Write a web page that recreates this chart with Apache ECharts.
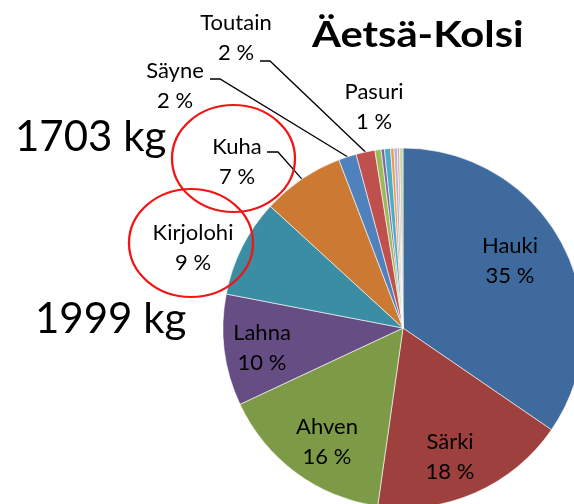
<!DOCTYPE html>
<html><head><meta charset="utf-8">
<script src="https://cdn.jsdelivr.net/npm/echarts@6/dist/echarts.min.js"></script>
<style>html,body{margin:0;padding:0;background:#fff}#c{width:574px;height:504px}</style>
</head><body><div id="c"></div>
<script>
// ---- data ----
const names = ['Hauki','Särki','Ahven','Lahna','Kirjolohi','Kuha','Säyne','Toutain','Pasuri','Siika','Made','Kiiski','Salakka','Muikku','Taimen'];
const shares = [34.6,17.7,15.8,10.0,8.8,7.4,1.6,1.7,0.55,0.3,0.55,0.3,0.3,0.2,0.3];
const shownLabels = ['Hauki','Särki','Ahven','Lahna','Kirjolohi','Kuha','Säyne','Toutain','Pasuri'];
const titleText = 'Äetsä-Kolsi';
const weightTexts = ['1703 kg','1999 kg'];

// ---- style ----
const colors = ['#3F6A9E','#9E403D','#7D9B47','#664E84','#3A8DA2','#CC7A33','#4F81BD','#C0504D','#9BBB59','#8064A2','#4BACC6','#F79646','#A7B8DC','#DAA5A4','#C5D5A6'];
const outsideNames = ['Kirjolohi','Kuha','Säyne','Toutain','Pasuri'];
const leaderNames = ['Kuha','Säyne','Toutain'];
const labelPos = {
  'Hauki':[510,261], 'Särki':[450,457], 'Ahven':[327,442], 'Lahna':[262,348],
  'Kirjolohi':[193,248], 'Kuha':[237,162], 'Säyne':[175,86], 'Toutain':[236,38], 'Pasuri':[374,107]
};
const leaderPts = {
  'Kuha':[[278,152],[267,152]],
  'Säyne':[[220,79],[210,79]],
  'Toutain':[[270,61],[260,61]]
};

const data = names.map((n,i)=>({
  name:n, value:shares[i],
  itemStyle:{color:colors[i]},
  label:{show: shownLabels.includes(n), position: outsideNames.includes(n)?'outside':'inside'},
  labelLine:{show: leaderNames.includes(n)}
}));

const chart = echarts.init(document.getElementById('c'), null, {renderer:'canvas'});
chart.setOption({
  backgroundColor:'#fff',
  animation:false,
  series:[{
    type:'pie',
    center:[403,328],
    radius:180,
    startAngle:90,
    clockwise:true,
    avoidLabelOverlap:false,
    itemStyle:{borderColor:'#fff',borderWidth:0.6},
    label:{
      formatter:p=>p.name+'\n'+Math.round(p.percent)+' %',
      fontFamily:'Lato', fontSize:22, lineHeight:30, color:'#000',
      align:'center'
    },
    labelLine:{length:10,length2:10,lineStyle:{color:'#000',width:1.3}},
    labelLayout:function(p){
      const n = names[p.dataIndex];
      const pos = labelPos[n];
      if(!pos) return {};
      const out = {x:pos[0], y:pos[1], align:'center', verticalAlign:'middle'};
      const lp = leaderPts[n];
      if(lp && p.labelLinePoints){
        out.labelLinePoints = [p.labelLinePoints[0], lp[0], lp[1]];
      }
      return out;
    },
    data:data
  }],
  graphic:[
    {type:'text', z:100, x:312, y:35, scaleX:1.16, style:{text:titleText, font:'bold 36px Lato', fill:'#000', verticalAlign:'middle'}},
    {type:'text', z:100, x:15, y:137, style:{text:weightTexts[0], font:'42px Lato', fill:'#000', verticalAlign:'middle'}},
    {type:'text', z:100, x:35, y:319, style:{text:weightTexts[1], font:'42px Lato', fill:'#000', verticalAlign:'middle'}},
    {type:'circle', z:100, x:233.5, y:158.5, scaleX:61.5/53.5, shape:{cx:0,cy:0,r:53.5}, style:{fill:'none', stroke:'#F21515', lineWidth:2, strokeNoScale:true}},
    {type:'circle', z:100, x:191, y:243, scaleX:62/54, shape:{cx:0,cy:0,r:54}, style:{fill:'none', stroke:'#F21515', lineWidth:2, strokeNoScale:true}}
  ]
});
</script></body></html>
